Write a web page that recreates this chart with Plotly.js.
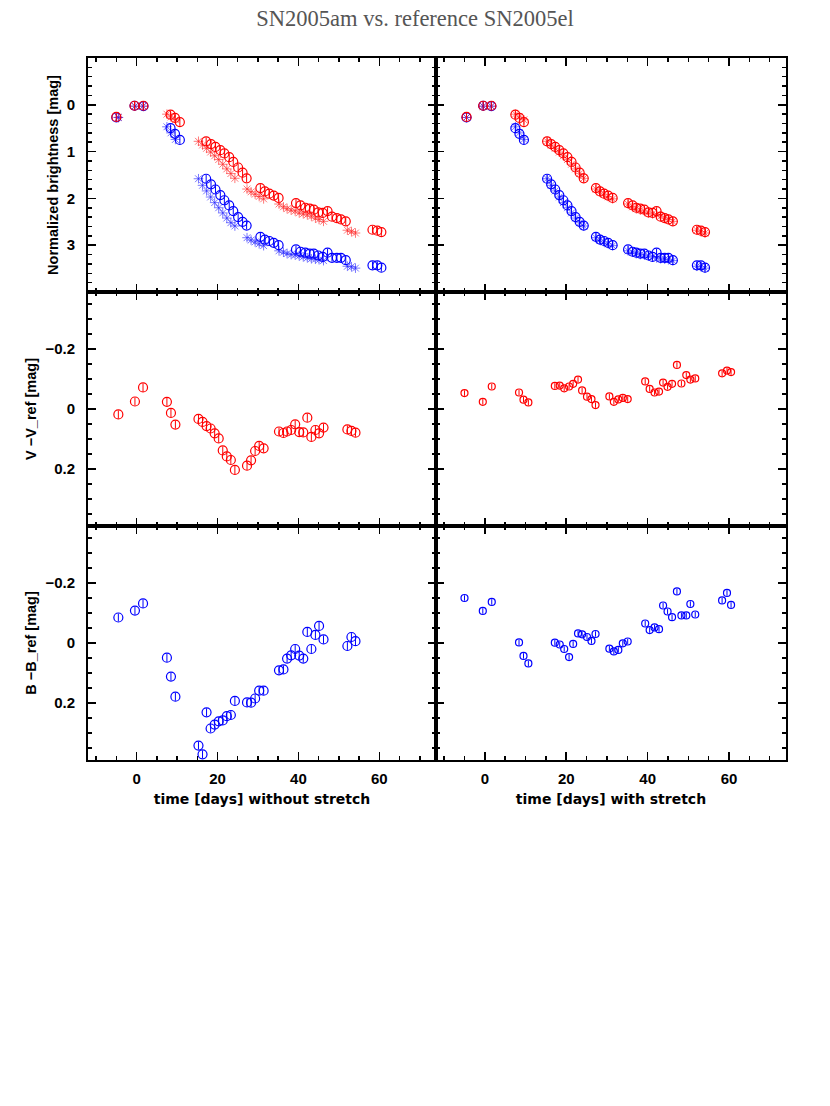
<!DOCTYPE html>
<html>
<head>
<meta charset="utf-8">
<script src="https://cdn.plot.ly/plotly-3.0.1.min.js"></script>
<style>html,body{margin:0;padding:0;background:#fff;}#chart{width:830px;height:1106px;}</style>
</head>
<body>
<div id="chart"></div>
<script>
// epochs [days]: set A (used in "with stretch" top panel and left residual panels), set B (stretched/raw)
const tA = [-4.5,-0.4,1.6, 7.5,8.5,9.6, 15.3,16.3,17.3,18.3,19.3,20.3,21.3,22.3,23.3,24.3,
            27.3,28.3,29.3,30.3,31.4, 35.2,36.3,37.2,38.2,39.2,40.2,41.2,42.2,43.2,44.2,45.1,46.2,
            52.1,53.1,54.1];
const tB = [-5.0,-0.5,1.7, 8.4,9.5,10.7, 17.2,18.4,19.5,20.7,21.7,22.9,23.9,25.1,26.2,27.2,
            30.6,31.7,32.8,33.9,35.1, 39.4,40.5,41.7,42.8,43.8,44.9,46.0,47.2,48.3,49.5,50.5,51.7,
            58.3,59.5,60.5];
// SN2005am normalized brightness [mag]
const Vmag = [0.26,0.02,0.02, 0.21,0.28,0.37, 0.78,0.84,0.90,0.97,1.04,1.12,1.22,1.34,1.45,1.57,
              1.78,1.85,1.90,1.94,1.99, 2.10,2.15,2.20,2.22,2.24,2.30,2.31,2.27,2.39,2.42,2.45,2.49,
              2.67,2.69,2.72];
const Bmag = [0.27,0.02,0.03, 0.50,0.62,0.75, 1.58,1.70,1.81,1.93,2.04,2.15,2.27,2.40,2.50,2.58,
              2.82,2.88,2.91,2.95,3.00, 3.09,3.14,3.16,3.18,3.18,3.22,3.25,3.16,3.27,3.27,3.27,3.32,
              3.43,3.43,3.48];
// reference SN2005el (asterisks)
const Vref = [0.27,0.03,0.03, 0.20,0.26,0.32, 0.78,0.86,0.93,1.01,1.09,1.17,1.27,1.37,1.47,1.57,
              1.80,1.86,1.91,1.96,2.01, 2.12,2.18,2.22,2.25,2.27,2.31,2.33,2.35,2.38,2.42,2.45,2.49,
              2.68,2.71,2.74];
const Bref = [0.27,0.03,0.03, 0.47,0.60,0.74, 1.58,1.72,1.84,1.97,2.09,2.20,2.31,2.42,2.52,2.59,
              2.84,2.89,2.93,2.97,3.01, 3.12,3.15,3.18,3.20,3.21,3.23,3.25,3.27,3.29,3.30,3.31,3.33,
              3.45,3.46,3.49];
// residuals V - V_ref [mag]
const dV_noStretch = [0.018,-0.025,-0.072, -0.024,0.013,0.052,
              0.033,0.043,0.057,0.065,0.081,0.098,0.138,0.158,0.170,0.203,
              0.189,0.171,0.140,0.123,0.131,
              0.075,0.080,0.075,0.070,0.051,0.077,0.078,0.029,0.093,0.070,0.081,0.062,
              0.068,0.073,0.079];
const dV_stretch = [-0.053,-0.024,-0.075, -0.055,-0.031,-0.022,
              -0.077,-0.078,-0.069,-0.075,-0.084,-0.098,-0.062,-0.041,-0.033,-0.013,
              -0.042,-0.024,-0.032,-0.037,-0.033,
              -0.092,-0.067,-0.055,-0.058,-0.088,-0.074,-0.084,-0.147,-0.085,-0.113,-0.098,-0.102,
              -0.119,-0.128,-0.123];
// residuals B - B_ref [mag]
const dB_noStretch = [-0.085,-0.108,-0.132, 0.049,0.112,0.179,
              0.342,0.371,0.231,0.285,0.272,0.261,0.258,0.244,0.240,0.193,
              0.198,0.199,0.185,0.159,0.159,
              0.091,0.088,0.052,0.041,0.020,0.042,0.052,-0.037,0.020,-0.027,-0.057,-0.012,
              0.010,-0.020,-0.006];
const dB_stretch = [-0.150,-0.107,-0.137, -0.002,0.043,0.068,
              -0.001,0.005,0.020,0.047,0.003,-0.032,-0.029,-0.020,-0.007,-0.030,
              0.019,0.028,0.023,0.001,-0.005,
              -0.065,-0.043,-0.052,-0.046,-0.125,-0.105,-0.086,-0.172,-0.092,-0.092,-0.130,-0.095,
              -0.142,-0.167,-0.127];
// tick labels
const magTicks = [0, 1, 2, 3];
const residTicks = [-0.2, 0, 0.2];
const timeTicks = [0, 20, 40, 60];

const RED = '#ff0000', BLUE = '#0000ff';
const RED_L = 'rgba(255,30,30,0.6)', BLUE_L = 'rgba(30,30,255,0.6)';

function circ(x, y, color, xa, ya, size, err) {
  return {x: x, y: y, xaxis: xa, yaxis: ya, type: 'scatter', mode: 'markers',
    marker: {symbol: 'circle-open', size: size, color: color, line: {width: 1.2, color: color}},
    error_y: {type: 'constant', value: err, width: 0, thickness: 1, color: color},
    showlegend: false, hoverinfo: 'x+y'};
}
function star(x, y, color, xa, ya) {
  return {x: x, y: y, xaxis: xa, yaxis: ya, type: 'scatter', mode: 'markers',
    marker: {symbol: 'asterisk-open', size: 8, color: color, line: {width: 1, color: color}},
    showlegend: false, hoverinfo: 'x+y'};
}

const data = [
  star(tA, Vref, RED_L, 'x', 'y'), star(tA, Bref, BLUE_L, 'x', 'y'),
  circ(tB, Bmag, BLUE, 'x', 'y', 9, 0.08), circ(tB, Vmag, RED, 'x', 'y', 9, 0.08),
  star(tA, Vref, RED_L, 'x2', 'y2'), star(tA, Bref, BLUE_L, 'x2', 'y2'),
  circ(tA, Bmag, BLUE, 'x2', 'y2', 9, 0.08), circ(tA, Vmag, RED, 'x2', 'y2', 9, 0.08),
  circ(tA, dV_noStretch, RED, 'x3', 'y3', 9, 0.013),
  circ(tB, dV_stretch, RED, 'x4', 'y4', 7, 0.009),
  circ(tA, dB_noStretch, BLUE, 'x5', 'y5', 9, 0.013),
  circ(tB, dB_stretch, BLUE, 'x6', 'y6', 7, 0.009)
];

const tickFont = {family: 'Liberation Sans, Arial, sans-serif', size: 15, color: '#000', weight: 'bold'};
const xTitleFont = {family: 'DejaVu Sans, sans-serif', size: 14, color: '#000', weight: 'bold'};
const yTitleFont = {family: 'Liberation Sans, Arial, sans-serif', size: 14.5, color: '#000', weight: 'bold'};

function xax(domain, anchor, labels, title) {
  const a = {domain: domain, anchor: anchor, range: [-12, 74], tickmode: 'array', tickvals: timeTicks,
    showline: true, linewidth: 2, linecolor: '#000', mirror: 'allticks',
    ticks: 'inside', ticklen: 8, tickwidth: 1.5, tickcolor: '#000',
    minor: {dtick: 5, tick0: 0, ticks: 'inside', ticklen: 4, tickwidth: 1.5, tickcolor: '#000', showgrid: false},
    showgrid: false, zeroline: false, showticklabels: labels, tickfont: tickFont, ticklabelstandoff: 4};
  if (title) a.title = {text: title, font: xTitleFont, standoff: 8};
  return a;
}
function yax(domain, anchor, range, ticks, minor, labels, title) {
  const a = {domain: domain, anchor: anchor, range: range, tickmode: 'array', tickvals: ticks,
    showline: true, linewidth: 2, linecolor: '#000', mirror: 'allticks',
    ticks: 'inside', ticklen: 8, tickwidth: 1.5, tickcolor: '#000',
    minor: {dtick: minor, tick0: 0, ticks: 'inside', ticklen: 4, tickwidth: 1.5, tickcolor: '#000', showgrid: false},
    showgrid: false, zeroline: false, showticklabels: labels, tickfont: tickFont, ticklabelstandoff: 8};
  if (title) a.title = {text: title, font: yTitleFont, standoff: 5};
  return a;
}

const L = [0, 348/698], R = [348/698, 1];
const r1 = [2/3, 1], r2 = [1/3, 2/3], r3 = [0, 1/3];

const layout = {
  width: 830, height: 1106,
  paper_bgcolor: '#fff', plot_bgcolor: 'rgba(0,0,0,0)',
  margin: {l: 88, r: 44, t: 58, b: 346},
  title: {text: 'SN2005am vs. reference SN2005el', x: 0.5, xanchor: 'center', xref: 'container',
    y: 1 - 18/1106, yanchor: 'middle', yref: 'container',
    font: {family: 'Liberation Serif, DejaVu Serif, serif', size: 22.5, color: '#555'}},
  showlegend: false,
  xaxis: xax(L, 'y', false),
  xaxis2: xax(R, 'y2', false),
  xaxis3: xax(L, 'y3', false),
  xaxis4: xax(R, 'y4', false),
  xaxis5: xax(L, 'y5', true, 'time [days] without stretch'),
  xaxis6: xax(R, 'y6', true, 'time [days] with stretch'),
  yaxis: yax(r1, 'x', [4, -1], magTicks, 0.2, true, 'Normalized brightness [mag]'),
  yaxis2: yax(r1, 'x2', [4, -1], magTicks, 0.2, false),
  yaxis3: yax(r2, 'x3', [0.39, -0.39], residTicks, 0.05, true, 'V \u2212V_ref [mag]'),
  yaxis4: yax(r2, 'x4', [0.39, -0.39], residTicks, 0.05, false),
  yaxis5: yax(r3, 'x5', [0.39, -0.39], residTicks, 0.05, true, 'B \u2212B_ref [mag]'),
  yaxis6: yax(r3, 'x6', [0.39, -0.39], residTicks, 0.05, false)
};

Plotly.newPlot('chart', data, layout, {displayModeBar: false, staticPlot: true});
</script>
</body>
</html>
